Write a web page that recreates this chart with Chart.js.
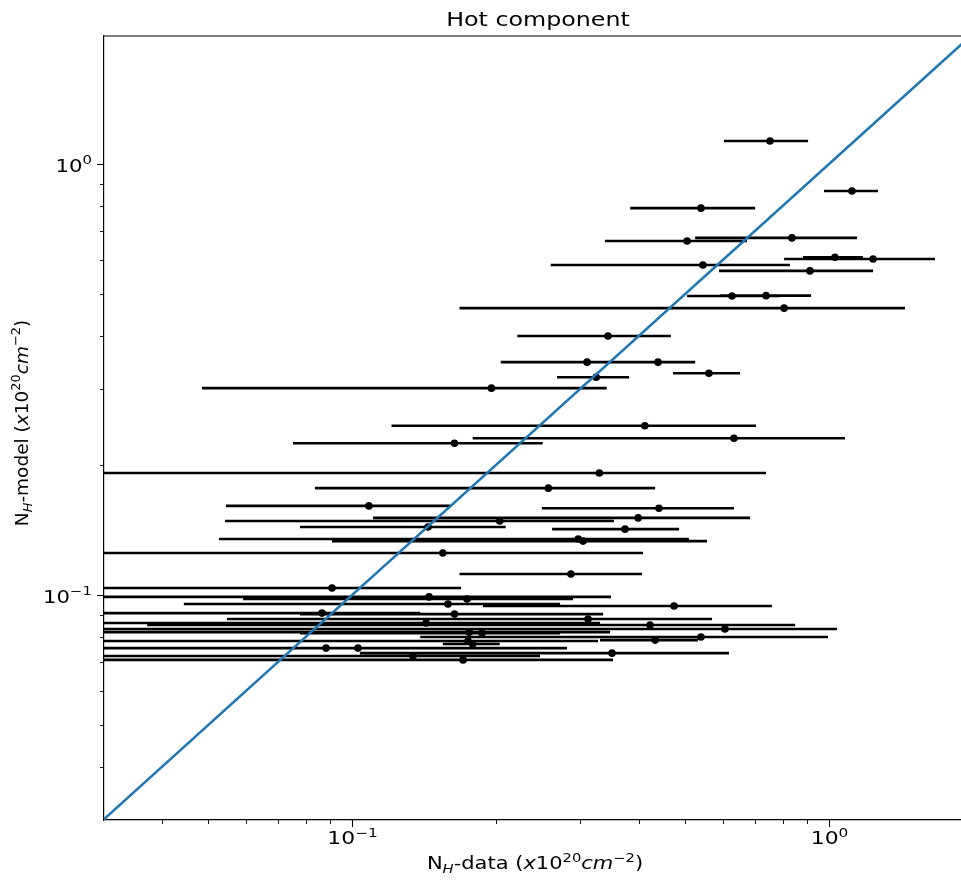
<!DOCTYPE html>
<html>
<head>
<meta charset="utf-8">
<script src="https://cdn.jsdelivr.net/npm/chart.js@4.4.1/dist/chart.umd.min.js"></script>
<style>
  html, body { margin: 0; padding: 0; background: #fff; }
  #wrap { width: 961px; height: 880px; }
</style>
</head>
<body>
<div id="wrap"><canvas id="c" width="961" height="880"></canvas></div>
<script>
// Column density from data (x) vs. model (y), hot component, in 10^20 cm^-2
const nhData = [
  0.752, 1.117, 0.539, 0.504, 0.836, 0.544, 1.029, 1.237, 0.912, 0.626,
  0.738, 0.805, 0.344, 0.311, 0.438, 0.560, 0.325, 0.196, 0.411, 0.632,
  0.164, 0.330, 0.258, 0.1085, 0.440, 0.398, 0.204, 0.1443, 0.3735, 0.298,
  0.305, 0.155, 0.2877, 0.0908, 0.145, 0.1742, 0.1589, 0.4733, 0.0865, 0.164,
  0.3125, 0.143, 0.4214, 0.605, 0.176, 0.1873, 0.539, 0.432, 0.175, 0.179,
  0.0882, 0.1029, 0.3508, 0.1342, 0.1709
];
const nhModel = [
  1.131, 0.866, 0.790, 0.663, 0.674, 0.583, 0.608, 0.602, 0.565, 0.494,
  0.495, 0.463, 0.399, 0.347, 0.347, 0.327, 0.320, 0.302, 0.247, 0.231,
  0.225, 0.192, 0.177, 0.161, 0.159, 0.151, 0.1485, 0.1438, 0.1422, 0.1349,
  0.1334, 0.1252, 0.1119, 0.1038, 0.0990, 0.0979, 0.0953, 0.0943, 0.0908, 0.0903,
  0.0880, 0.0861, 0.0852, 0.0834, 0.0820, 0.0816, 0.0799, 0.0786, 0.0782, 0.0770,
  0.0753, 0.0753, 0.0733, 0.0722, 0.0707
];
// Lower / upper ends of the horizontal error bars
const nhDataLow = [
  0.602, 0.976, 0.383, 0.339, 0.524, 0.261, 0.882, 0.805, 0.588, 0.504,
  0.591, 0.168, 0.222, 0.205, 0.365, 0.471, 0.269, 0.0485, 0.121, 0.179,
  0.0752, 0.020, 0.0836, 0.0544, 0.250, 0.1107, 0.0542, 0.0778, 0.2627, 0.0526,
  0.0908, 0.020, 0.168, 0.020, 0.020, 0.0591, 0.0444, 0.1882, 0.020, 0.0778,
  0.0547, 0.020, 0.0372, 0.025, 0.020, 0.0778, 0.139, 0.331, 0.020, 0.155,
  0.020, 0.0844, 0.1039, 0.020, 0.020
];
const nhDataHigh = [
  0.904, 1.267, 0.700, 0.673, 1.145, 0.828, 1.178, 1.668, 1.237, 0.789,
  0.917, 1.443, 0.466, 0.421, 0.524, 0.651, 0.381, 0.342, 0.703, 1.080,
  0.251, 0.738, 0.432, 0.1605, 0.632, 0.683, 0.354, 0.210, 0.485, 0.5085,
  0.555, 0.4074, 0.4055, 0.1693, 0.349, 0.2906, 0.273, 0.759, 0.139, 0.336,
  0.5685, 0.331, 0.849, 1.039, 0.3475, 0.273, 0.995, 0.531, 0.328, 0.204,
  0.2823, 0.204, 0.617, 0.2478, 0.3525
];
// One-to-one reference line
const identityEnds = [0.03, 2];

// Axis ranges and ticks
const xRange = [0.0302, 1.891];
const yRange = [0.03006, 1.982];
const majorTicks = [0.1, 1];
const minorTicks = [0.04, 0.05, 0.06, 0.07, 0.08, 0.09, 0.2, 0.3, 0.4, 0.5, 0.6, 0.7, 0.8, 0.9];
// Decade labels as mantissa "10" plus exponent
const tickExponents = { '0.1': '\u22121', '1': '0' };

const FONT = '"DejaVu Sans", "Liberation Sans", sans-serif';
const TEXT_STRETCH = 1.25;

function buildTicks(scale) {
  const all = majorTicks.concat(minorTicks)
    .filter(v => v >= scale.min && v <= scale.max)
    .sort((a, b) => a - b);
  scale.ticks = all.map(v => ({ value: v, major: majorTicks.includes(v) }));
}

// Text with sub/superscript runs: [text, italic, shift] (shift -1 sub, 1 sup)
function drawRich(ctx, parts, x0, baseY, size, align, stretch) {
  stretch = stretch || 1;
  const runs = parts.map(([t, it, sh]) => {
    const s = sh ? size * 0.7 : size;
    const font = (it ? 'italic ' : '') + s + 'px ' + FONT;
    ctx.font = font;
    return { t, font, w: ctx.measureText(t).width, dy: sh === 1 ? -size * 0.42 : sh === -1 ? size * 0.22 : 0 };
  });
  const total = runs.reduce((a, r) => a + r.w, 0) * stretch;
  let x = align === 'right' ? x0 - total : x0 - total / 2;
  ctx.save();
  ctx.translate(x, baseY);
  ctx.scale(stretch, 1);
  ctx.textAlign = 'left';
  ctx.textBaseline = 'alphabetic';
  let cx = 0;
  for (const r of runs) {
    ctx.font = r.font;
    ctx.fillText(r.t, cx, r.dy);
    cx += r.w;
  }
  ctx.restore();
}

const xLabelParts = [['N', 0, 0], ['H', 1, -1], ['-data (', 0, 0], ['x', 1, 0], ['10', 0, 0], ['20', 0, 1], ['cm', 1, 0], ['\u22122', 0, 1], [')', 0, 0]];
const yLabelParts = [['N', 0, 0], ['H', 1, -1], ['-model (', 0, 0], ['x', 1, 0], ['10', 0, 0], ['20', 0, 1], ['cm', 1, 0], ['\u22122', 0, 1], [')', 0, 0]];

const framePlugin = {
  id: 'frame',
  afterDraw(chart) {
    const ctx = chart.ctx;
    const a = chart.chartArea;
    const xs = chart.scales.x, ys = chart.scales.y;
    ctx.save();
    ctx.strokeStyle = '#000';
    ctx.fillStyle = '#000';
    // top spine
    ctx.lineWidth = 1.2;
    ctx.beginPath();
    ctx.moveTo(a.left - 0.6, a.top);
    ctx.lineTo(a.right, a.top);
    ctx.stroke();
    // tick marks and decade labels
    for (const t of xs.ticks) {
      const px = Math.round(xs.getPixelForValue(t.value)) + 0.5;
      const len = t.major ? 7 : 4;
      ctx.lineWidth = t.major ? 1.1 : 0.9;
      ctx.beginPath();
      ctx.moveTo(px, a.bottom);
      ctx.lineTo(px, a.bottom + len);
      ctx.stroke();
      const e = tickExponents[String(t.value)];
      if (e) drawRich(ctx, [['10', 0, 0], [e, 0, 1]], px, a.bottom + 24, 17.5, 'center', TEXT_STRETCH);
    }
    for (const t of ys.ticks) {
      const py = Math.round(ys.getPixelForValue(t.value)) + 0.5;
      const len = t.major ? 7 : 4;
      ctx.lineWidth = t.major ? 1.1 : 0.9;
      ctx.beginPath();
      ctx.moveTo(a.left, py);
      ctx.lineTo(a.left - len, py);
      ctx.stroke();
      const e = tickExponents[String(t.value)];
      if (e) drawRich(ctx, [['10', 0, 0], [e, 0, 1]], a.left - 12, py + 7, 17, 'right', TEXT_STRETCH);
    }
    // title and axis titles
    drawRich(ctx, [['Hot component', 0, 0]], 538, 26, 19, 'center', TEXT_STRETCH);
    drawRich(ctx, xLabelParts, 535, 869, 17.5, 'center', 1.2);
    ctx.translate(28, 423);
    ctx.rotate(-Math.PI / 2);
    drawRich(ctx, yLabelParts, 0, 0, 18.5, 'center');
    ctx.restore();
  }
};

// Error bars as one line dataset, each bar separated by a gap
const errorBarPoints = [];
nhData.forEach((_, i) => {
  errorBarPoints.push({ x: nhDataLow[i], y: nhModel[i] });
  errorBarPoints.push({ x: nhDataHigh[i], y: nhModel[i] });
  errorBarPoints.push({ x: nhDataHigh[i], y: null });
});

new Chart(document.getElementById('c'), {
  type: 'scatter',
  data: {
    datasets: [
      {
        type: 'line',
        label: 'x = y',
        data: identityEnds.map(v => ({ x: v, y: v })),
        borderColor: '#1f77b4',
        borderWidth: 2.6,
        pointRadius: 0,
        clip: 0,
        order: 0
      },
      {
        type: 'scatter',
        label: 'sources',
        data: nhData.map((x, i) => ({ x, y: nhModel[i] })),
        backgroundColor: '#000',
        borderWidth: 0,
        pointRadius: 3.8,
        order: 1
      },
      {
        type: 'line',
        label: 'error',
        data: errorBarPoints,
        borderColor: '#000',
        borderWidth: 2.6,
        borderCapStyle: 'butt',
        pointRadius: 0,
        spanGaps: false,
        tension: 0,
        clip: 0,
        order: 2
      }
    ]
  },
  options: {
    responsive: false,
    devicePixelRatio: 1,
    animation: false,
    events: [],
    layout: { autoPadding: false, padding: { top: 36, left: 0, right: -4, bottom: 0 } },
    plugins: { legend: { display: false }, tooltip: { enabled: false }, title: { display: false } },
    scales: {
      x: {
        type: 'logarithmic',
        position: 'bottom',
        min: xRange[0],
        max: xRange[1],
        afterBuildTicks: buildTicks,
        afterFit: s => { s.height = 60; s.paddingLeft = 0; s.paddingRight = 0; },
        grid: { display: false, drawTicks: false },
        border: { display: true, color: '#000', width: 1.2 },
        ticks: { display: false, autoSkip: false }
      },
      y: {
        type: 'logarithmic',
        min: yRange[0],
        max: yRange[1],
        afterBuildTicks: buildTicks,
        afterFit: s => { s.width = 104; s.paddingTop = 0; s.paddingBottom = 0; },
        grid: { display: false, drawTicks: false },
        border: { display: true, color: '#000', width: 1.2 },
        ticks: { display: false, autoSkip: false }
      }
    }
  },
  plugins: [framePlugin]
});
</script>
</body>
</html>
